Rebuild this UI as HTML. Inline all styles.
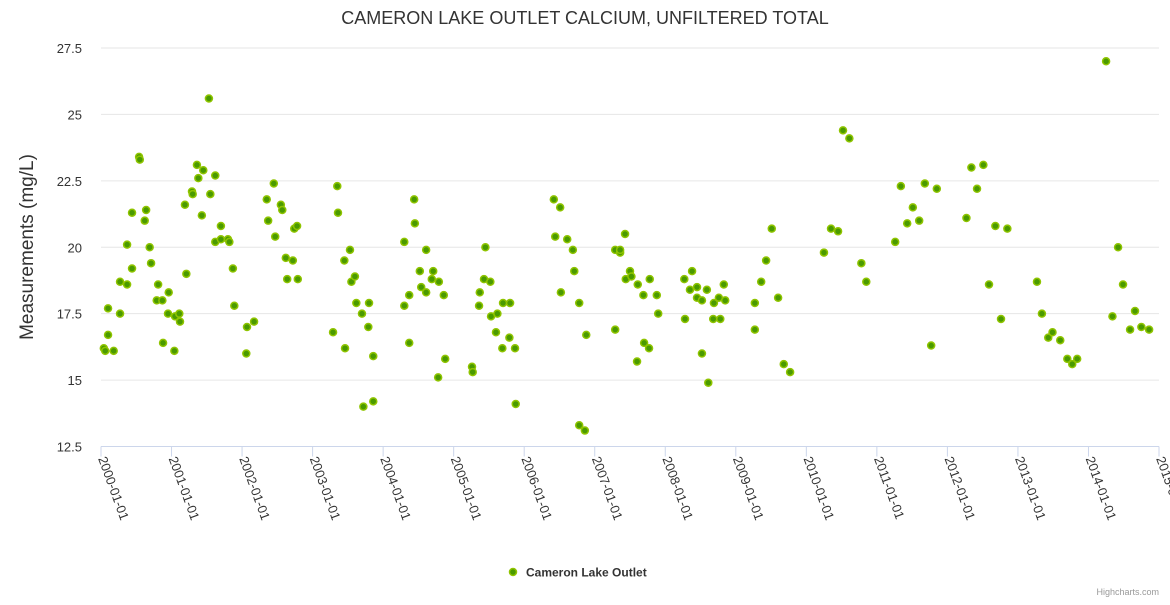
<!DOCTYPE html>
<html><head><meta charset="utf-8">
<style>
body{margin:0;background:#fff;font-family:"Liberation Sans",sans-serif;}
svg text{font-family:"Liberation Sans",sans-serif;}
</style></head>
<body>
<svg id="chart" width="1170" height="600" xmlns="http://www.w3.org/2000/svg">
<text x="585" y="24" text-anchor="middle" font-size="18" fill="#333">CAMERON LAKE OUTLET CALCIUM, UNFILTERED TOTAL</text>
<text transform="translate(33,247) rotate(-90)" text-anchor="middle" font-size="19" fill="#333">Measurements (mg/L)</text>
<g id="grid"></g>
<g id="xaxis"></g>
<g id="points"></g>
<g>
<circle cx="513" cy="572" r="3.5" fill="#4a9a00" stroke="#8fc400" stroke-width="1.5"/>
<text x="526" y="576.5" font-size="12" font-weight="bold" fill="#333">Cameron Lake Outlet</text>
</g>
<text x="1159" y="595" text-anchor="end" font-size="9" fill="#999">Highcharts.com</text>
</svg>
<script>
const yTicks=[12.5,15,17.5,20,22.5,25,27.5];
const yTickLabels=["12.5","15","17.5","20","22.5","25","27.5"];
const xTicks=[2000,2001,2002,2003,2004,2005,2006,2007,2008,2009,2010,2011,2012,2013,2014,2015];
const xTickLabels=["2000-01-01","2001-01-01","2002-01-01","2003-01-01","2004-01-01","2005-01-01","2006-01-01","2007-01-01","2008-01-01","2009-01-01","2010-01-01","2011-01-01","2012-01-01","2013-01-01","2014-01-01","2015-01-01"];
const dates=[2000.04,2000.06,2000.10,2000.10,2000.18,2000.27,2000.27,2000.37,2000.37,2000.44,2000.44,2000.54,2000.55,2000.62,2000.64,2000.69,2000.71,2000.79,2000.81,2000.87,2000.88,2000.95,2000.96,2001.04,2001.05,2001.11,2001.12,2001.19,2001.21,2001.29,2001.30,2001.36,2001.38,2001.43,2001.45,2001.53,2001.55,2001.62,2001.62,2001.70,2001.70,2001.80,2001.82,2001.87,2001.89,2002.06,2002.07,2002.17,2002.35,2002.37,2002.45,2002.47,2002.55,2002.57,2002.62,2002.64,2002.72,2002.74,2002.78,2002.79,
2003.29,2003.35,2003.36,2003.45,2003.46,2003.53,2003.55,2003.60,2003.62,2003.70,2003.72,2003.79,2003.80,2003.86,2003.86,
2004.30,2004.30,2004.37,2004.37,2004.44,2004.45,2004.52,2004.54,2004.61,2004.61,2004.69,2004.71,2004.78,2004.79,2004.86,2004.88,
2005.26,2005.27,2005.36,2005.37,2005.43,2005.45,2005.52,2005.53,2005.60,2005.62,2005.69,2005.70,2005.79,2005.80,2005.87,2005.88,
2006.42,2006.44,2006.51,2006.52,2006.61,2006.69,2006.71,2006.78,2006.78,2006.86,2006.88,
2007.29,2007.29,2007.36,2007.36,2007.43,2007.44,2007.50,2007.52,2007.60,2007.61,2007.69,2007.70,2007.77,2007.78,2007.88,2007.90,
2008.27,2008.28,2008.35,2008.38,2008.45,2008.45,2008.52,2008.52,2008.59,2008.61,2008.68,2008.69,2008.76,2008.78,2008.83,2008.85,
2009.27,2009.27,2009.36,2009.43,2009.51,2009.60,2009.68,2009.77,
2010.25,2010.35,2010.45,2010.52,2010.61,2010.78,2010.85,
2011.26,2011.34,2011.43,2011.51,2011.60,2011.68,2011.77,2011.85,
2012.27,2012.34,2012.42,2012.51,2012.59,2012.68,2012.76,2012.85,
2013.27,2013.34,2013.43,2013.49,2013.60,2013.70,2013.77,2013.84,
2014.25,2014.34,2014.42,2014.49,2014.59,2014.66,2014.75,2014.86];
const values=[16.2,16.1,16.7,17.7,16.1,17.5,18.7,18.6,20.1,19.2,21.3,23.4,23.3,21.0,21.4,20.0,19.4,18.0,18.6,18.0,16.4,17.5,18.3,16.1,17.4,17.5,17.2,21.6,19.0,22.1,22.0,23.1,22.6,21.2,22.9,25.6,22.0,22.7,20.2,20.8,20.3,20.3,20.2,19.2,17.8,16.0,17.0,17.2,21.8,21.0,22.4,20.4,21.6,21.4,19.6,18.8,19.5,20.7,20.8,18.8,
16.8,22.3,21.3,19.5,16.2,19.9,18.7,18.9,17.9,17.5,14.0,17.0,17.9,15.9,14.2,
17.8,20.2,16.4,18.2,21.8,20.9,19.1,18.5,18.3,19.9,18.8,19.1,15.1,18.7,18.2,15.8,
15.5,15.3,17.8,18.3,18.8,20.0,18.7,17.4,16.8,17.5,16.2,17.9,16.6,17.9,16.2,14.1,
21.8,20.4,21.5,18.3,20.3,19.9,19.1,17.9,13.3,13.1,16.7,
16.9,19.9,19.8,19.9,20.5,18.8,19.1,18.9,15.7,18.6,18.2,16.4,16.2,18.8,18.2,17.5,
18.8,17.3,18.4,19.1,18.1,18.5,16.0,18.0,18.4,14.9,17.3,17.9,18.1,17.3,18.6,18.0,
16.9,17.9,18.7,19.5,20.7,18.1,15.6,15.3,
19.8,20.7,20.6,24.4,24.1,19.4,18.7,
20.2,22.3,20.9,21.5,21.0,22.4,16.3,22.2,
21.1,23.0,22.2,23.1,18.6,20.8,17.3,20.7,
18.7,17.5,16.6,16.8,16.5,15.8,15.6,15.8,
27.0,17.4,20.0,18.6,16.9,17.6,17.0,16.9];

const L=101,R=1159,T=48,B=446.5;
const X0=2000,X1=2015,Y0=12.5,Y1=27.5;
function xs(v){return L+(v-X0)/(X1-X0)*(R-L);}
function ys(v){return B-(v-Y0)/(Y1-Y0)*(B-T);}
const NS="http://www.w3.org/2000/svg";
function mk(tag,attrs,parent){const e=document.createElementNS(NS,tag);for(const k in attrs)e.setAttribute(k,attrs[k]);parent.appendChild(e);return e;}
const grid=document.getElementById('grid');
yTicks.forEach((t,i)=>{
  if(i>0){const l=mk('line',{x1:L,x2:R,y1:ys(t),y2:ys(t),stroke:'#e6e6e6','stroke-width':1},grid);
  
  }
  const tx=mk('text',{x:82,y:ys(t)+5,'text-anchor':'end','font-size':13,fill:'#333'},grid);
  tx.textContent=yTickLabels[i];
  
  
});
const xa=document.getElementById('xaxis');
const al=mk('line',{x1:L,x2:R,y1:B,y2:B,stroke:'#ccd6eb','stroke-width':1},xa);


xTicks.forEach((t,i)=>{
  const x=xs(t);
  const tk=mk('line',{x1:x,x2:x,y1:B,y2:B+10,stroke:'#ccd6eb'},xa);
  
  
  const tx=mk('text',{x:0,y:0,'font-size':13,fill:'#333',transform:`translate(${x-3},${B+12}) rotate(70)`},xa);
  tx.textContent=xTickLabels[i];
  
  
});
const pts=document.getElementById('points');
dates.forEach((d,i)=>{
  const c=mk('circle',{cx:xs(d),cy:ys(values[i]),r:3.5,fill:'#4a9a00',stroke:'#8fc400','stroke-width':1.5},pts);
  
  
});
</script>
</body></html>
